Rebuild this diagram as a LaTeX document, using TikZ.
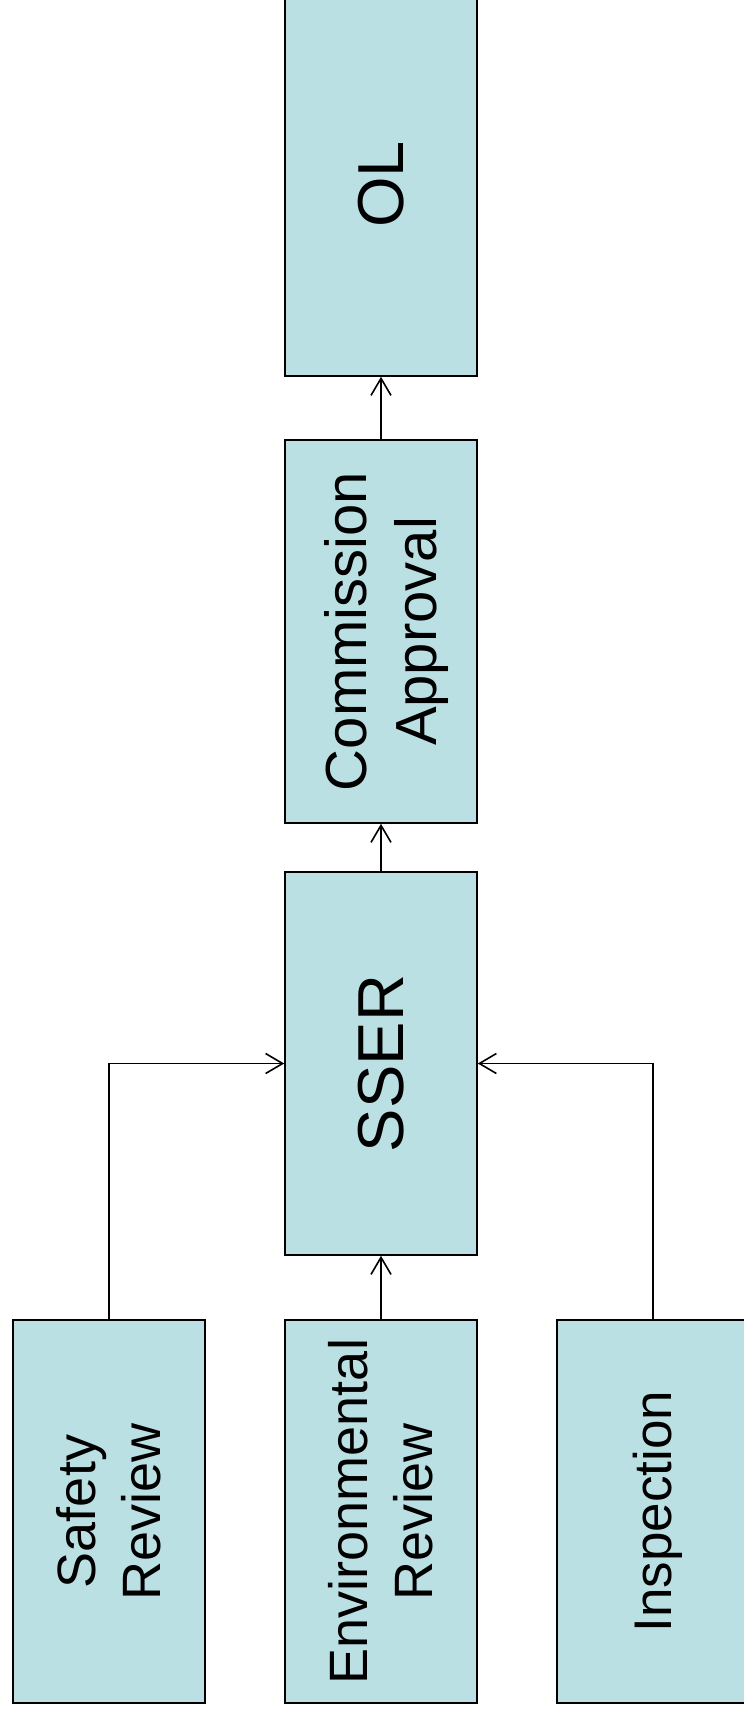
\documentclass[tikz,border=0pt]{standalone}
\usepackage{fontspec}
\setmainfont{Liberation Sans}
\usepackage{graphicx}
\usetikzlibrary{arrows.meta}
\definecolor{boxfill}{HTML}{BBE0E3}
\newcommand{\vtext}[3]{\rotatebox{90}{\fontsize{#1}{#2}\selectfont\raisebox{-0.11em}[\height][\depth]{\begin{tabular}{@{}c@{}}#3\end{tabular}}}}
\tikzset{
  stepbox/.style={rectangle, draw=black, fill=boxfill, line width=1.6pt,
    minimum width=192pt, minimum height=383pt, inner sep=0pt, text=black},
  conn/.style={draw=black, line width=1.6pt, -{Straight Barb[length=17pt,width=20pt,line width=1.6pt]}}
}
\begin{document}
\begin{tikzpicture}[x=1pt,y=1pt]
\path[use as bounding box] (0,0) rectangle (744,-1711);
\clip (0,0) rectangle (744,-1711);
\fill[white] (0,0) rectangle (744,-1711);
\node[stepbox] (safety) at (109,-1511.5) {\vtext{54}{64.8}{Safety\\Review}};
\node[stepbox] (env) at (381,-1511.5) {\vtext{54}{64.8}{Environmental\\Review}};
\node[stepbox] (insp) at (653,-1511.5) {\vtext{53}{63.6}{Inspection}};
\node[stepbox] (sser) at (381,-1063.5) {\vtext{65}{78}{SSER}};
\node[stepbox] (comm) at (381,-631.5) {\vtext{58}{69.6}{Commission\\Approval}};
\node[stepbox] (ol) at (381,-184.5) {\vtext{65}{78}{OL}};
\draw[conn] (env.north) -- (sser.south);
\draw[conn] (sser.north) -- (comm.south);
\draw[conn] (comm.north) -- (ol.south);
\draw[conn] (safety.north) |- (sser.west);
\draw[conn] (insp.north) |- (sser.east);
\end{tikzpicture}
\end{document}
